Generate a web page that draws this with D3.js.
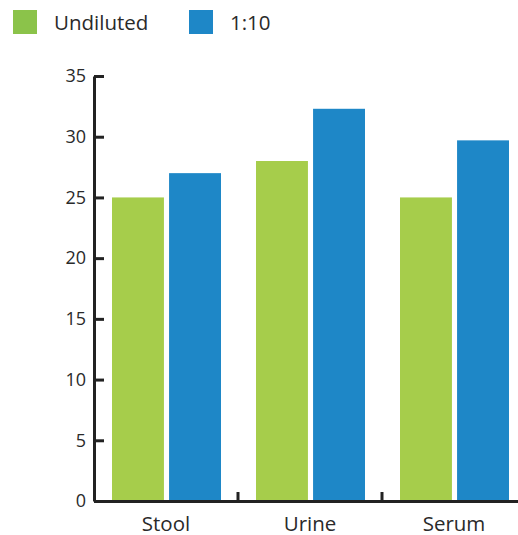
<!DOCTYPE html>
<html>
<head>
<meta charset="utf-8">
<script src="https://cdn.jsdelivr.net/npm/d3@7"></script>
<style>
  body { margin: 0; background: #fff; }
  text { font-family: 'Open Sans', sans-serif; fill: #2a2a2a; }
</style>
</head>
<body>
<div id="container"></div>
<script>
const categories = ['Stool', 'Urine', 'Serum'];
const seriesNames = ['Undiluted', '1:10'];
const undiluted = [25, 28, 25];
const diluted = [27, 32.3, 29.7];
const yTicks = [0, 5, 10, 15, 20, 25, 30, 35];

const WIDTH = 518;
const HEIGHT = 535;

const barColor = { Undiluted: '#a6cd4b', '1:10': '#1e87c7' };
const legendColor = { Undiluted: '#8bc34a', '1:10': '#1e87c7' };

const svg = d3
  .select('#container')
  .append('svg')
  .attr('width', WIDTH)
  .attr('height', HEIGHT);

const x = d3.scaleBand().domain(categories).range([94, 526]);
const x1 = d3
  .scaleBand()
  .domain(seriesNames)
  .range([18, x.bandwidth() - 17])
  .paddingInner(0.09);
const y = d3.scaleLinear().domain([0, 35]).range([501, 76]);

const rows = categories.map((c, i) => ({
  category: c,
  values: [
    { key: 'Undiluted', value: undiluted[i] },
    { key: '1:10', value: diluted[i] },
  ],
}));

// bars
const group = svg
  .selectAll('g.cat')
  .data(rows)
  .enter()
  .append('g')
  .attr('class', 'cat')
  .attr('transform', (d) => `translate(${x(d.category)}, 0)`);

group
  .selectAll('rect')
  .data((d) => d.values)
  .enter()
  .append('rect')
  .attr('x', (d) => x1(d.key))
  .attr('width', x1.bandwidth())
  .attr('y', (d) => y(d.value))
  .attr('height', (d) => y(0) - y(d.value))
  .attr('fill', (d) => barColor[d.key]);

// y axis
const yAxis = svg
  .append('g')
  .attr('transform', 'translate(94, 0)')
  .call(
    d3.axisRight(y).tickValues(yTicks).tickSize(10).tickSizeOuter(0).tickFormat((d) => d)
  );
yAxis.select('.domain').attr('stroke', '#222').attr('stroke-width', 3);
yAxis.selectAll('.tick line').attr('stroke', '#222').attr('stroke-width', 3);
yAxis
  .selectAll('.tick text')
  .attr('x', -8)
  .attr('text-anchor', 'end')
  .attr('font-size', 18)
  .attr('font-family', "'Open Sans', sans-serif")
  .attr('fill', '#2a2a2a');

// x axis
const xAxis = svg
  .append('g')
  .attr('transform', `translate(0, ${y(0)})`)
  .call(d3.axisBottom(x).tickSize(0).tickSizeOuter(0));
xAxis.select('.domain').attr('stroke', '#222').attr('stroke-width', 3);
xAxis
  .selectAll('.tick text')
  .attr('y', 15)
  .attr('font-size', 20.5)
  .attr('font-family', "'Open Sans', sans-serif")
  .attr('fill', '#2a2a2a');

// separators between categories
svg
  .append('g')
  .selectAll('line')
  .data(categories.slice(1))
  .enter()
  .append('line')
  .attr('x1', (d) => x(d))
  .attr('x2', (d) => x(d))
  .attr('y1', y(0))
  .attr('y2', y(0) - 9)
  .attr('stroke', '#222')
  .attr('stroke-width', 3);

// legend
const legend = svg
  .append('g')
  .selectAll('g')
  .data(seriesNames)
  .enter()
  .append('g')
  .attr('transform', (d, i) => `translate(${13 + i * 176}, 10)`);

legend
  .append('rect')
  .attr('width', 24)
  .attr('height', 24)
  .attr('fill', (d) => legendColor[d]);

legend
  .append('text')
  .attr('x', 41)
  .attr('y', 19.5)
  .attr('font-size', 20.5)
  .text((d) => d);
</script>
</body>
</html>
